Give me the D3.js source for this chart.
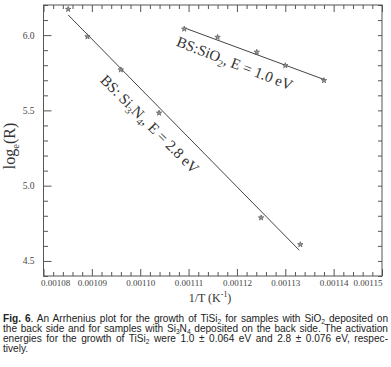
<!DOCTYPE html>
<html>
<head>
<meta charset="utf-8">
<script src="https://cdn.jsdelivr.net/npm/d3@7"></script>
<style>
  body { margin: 0; background: #fff; }
  .svgText { font-family: 'Liberation Serif', 'Times New Roman', serif; fill: #444; }
  .caption { font-family: 'Liberation Sans', Arial, sans-serif; font-size: 10.1px; fill: #222; }
</style>
</head>
<body>
<div id="chart"></div>
<script>

// axis ticks
const xTicks = [0.00108, 0.00109, 0.00110, 0.00111, 0.00112, 0.00113, 0.00114, 0.00115];
const yTicks = [4.5, 5.0, 5.5, 6.0];

// measured points, 1/T (K^-1) and log_e(R)
const siO2InvT = [0.0011091, 0.0011160, 0.0011241, 0.0011300, 0.0011380];
const siO2LogR = [6.041, 5.986, 5.887, 5.798, 5.699];
const si3N4InvT = [0.0010851, 0.0010891, 0.0010960, 0.0011039, 0.0011250, 0.0011331];
const si3N4LogR = [6.172, 5.990, 5.770, 5.483, 4.787, 4.609];

// fitted lines (end points)
const siO2FitInvT = [0.0011093, 0.0011382];
const siO2FitLogR = [6.046, 5.703];
const si3N4FitInvT = [0.0010851, 0.0011329];
const si3N4FitLogR = [6.134, 4.571];

// caption, segments: [text, style] with b = bold, s = subscript
const captionLines = [
  [['Fig. 6', 'b'], ['. An Arrhenius plot for the growth of TiSi'], ['2', 's'], [' for samples with SiO'], ['2', 's'], [' deposited on']],
  [['the back side and for samples with Si'], ['3', 's'], ['N'], ['4', 's'], [' deposited on the back side. The activation']],
  [['energies for the growth of TiSi'], ['2', 's'], [' were 1.0 \u00b1 0.064 eV and 2.8 \u00b1 0.076 eV, respec-']],
  [['tively.']]
];

Plot = {

  svgSize: {width: 391, height: 367},
  frame: {left: 43.5, right: 382, top: 5, bottom: 276},

  createSVG: function(){
    this.svg = d3.select('#chart').append('svg')
      .attr('width', this.svgSize.width)
      .attr('height', this.svgSize.height)
  },

  createScales: function(){
    this.xScale = d3.scaleLinear().domain([0.00108, 0.00115]).range([this.frame.left, this.frame.right])
    this.yScale = d3.scaleLinear().domain([4.4, 6.2]).range([this.frame.bottom, this.frame.top])
    this.xMinor = d3.range(0.00108, 0.001151, 0.000002).filter((d)=> Math.abs((d * 1e5) % 1) > 0.01 && Math.abs((d * 1e5) % 1) < 0.99)
    this.yMinor = d3.range(4.4, 6.21, 0.1).filter((d)=> Math.abs((d * 2) % 1) > 0.01 && Math.abs((d * 2) % 1) < 0.99)
  },

  drawTicks: function(axis){
    return (g)=> {
      g.call(axis)
      g.select('.domain').remove()
      g.selectAll('.tick line').attr('stroke', '#555')
    }
  },

  createAxes: function(){
    const f = this.frame;
    const noLabel = ()=> '';

    // bottom
    this.svg.append('g').attr('transform', `translate(0, ${f.bottom})`)
      .call(this.drawTicks(d3.axisBottom(this.xScale).tickValues(xTicks).tickSize(-7).tickPadding(4).tickFormat(d3.format('.5f'))))
      .call((g)=> g.selectAll('text').attr('class', 'svgText').style('font-size', '9px'))
      .call((g)=> {
        g.selectAll('text').filter((d)=> d === xTicks[0]).attr('text-anchor', 'start').attr('x', -3)
        g.selectAll('text').filter((d)=> d === xTicks[xTicks.length - 1]).attr('text-anchor', 'end').attr('x', 0)
      })
    this.svg.append('g').attr('transform', `translate(0, ${f.bottom})`)
      .call(this.drawTicks(d3.axisBottom(this.xScale).tickValues(this.xMinor).tickSize(-4).tickFormat(noLabel)))

    // top
    this.svg.append('g').attr('transform', `translate(0, ${f.top})`)
      .call(this.drawTicks(d3.axisTop(this.xScale).tickValues(xTicks).tickSize(-7).tickFormat(noLabel)))
    this.svg.append('g').attr('transform', `translate(0, ${f.top})`)
      .call(this.drawTicks(d3.axisTop(this.xScale).tickValues(this.xMinor).tickSize(-4).tickFormat(noLabel)))

    // left
    this.svg.append('g').attr('transform', `translate(${f.left}, 0)`)
      .call(this.drawTicks(d3.axisLeft(this.yScale).tickValues(yTicks).tickSize(-8).tickPadding(9).tickFormat(d3.format('.1f'))))
      .call((g)=> g.selectAll('text').attr('class', 'svgText').style('font-size', '9.5px'))
    this.svg.append('g').attr('transform', `translate(${f.left}, 0)`)
      .call(this.drawTicks(d3.axisLeft(this.yScale).tickValues(this.yMinor).tickSize(-4.5).tickFormat(noLabel)))

    // right
    this.svg.append('g').attr('transform', `translate(${f.right}, 0)`)
      .call(this.drawTicks(d3.axisRight(this.yScale).tickValues(yTicks.concat(this.yMinor)).tickSize(-4).tickFormat(noLabel)))

    this.svg.append('rect')
      .attr('x', f.left).attr('y', f.top)
      .attr('width', f.right - f.left).attr('height', f.bottom - f.top)
      .attr('fill', 'none').attr('stroke', '#555').attr('stroke-width', 1)
  },

  drawSeries: function(invT, logR, fitInvT, fitLogR){
    const line = d3.line().x((d)=> this.xScale(d[0])).y((d)=> this.yScale(d[1]))
    this.svg.append('path')
      .datum(d3.zip(fitInvT, fitLogR))
      .attr('d', line)
      .attr('fill', 'none')
      .attr('stroke', '#444')
      .attr('stroke-width', 1)

    this.svg.append('g').selectAll('path')
      .data(d3.zip(invT, logR))
      .enter()
      .append('path')
      .attr('d', d3.symbol().type(d3.symbolStar).size(9))
      .attr('transform', (d)=> `translate(${this.xScale(d[0])}, ${this.yScale(d[1])})`)
      .attr('fill', '#999')
      .attr('stroke', '#555')
      .attr('stroke-width', 0.7)
  },

  // text with sub / superscript pieces
  richText: function(el, parts, size, subShift){
    let shift = 0;
    parts.forEach((p)=> {
      const t = el.append('tspan').text(p[0])
      let want = 0;
      if (p[1] === 's') want = size * (subShift || 0.25)
      if (p[1] === 'p') want = -size * 0.38
      if (want !== shift) t.attr('dy', want - shift)
      shift = want
      if (p[1] === 's' || p[1] === 'p') t.style('font-size', (size * 0.66) + 'px')
      if (p[1] === 'b') t.style('font-weight', 'bold')
    })
    return el
  },

  createLabels: function(){
    const serif = "'Liberation Serif', 'Times New Roman', serif";

    this.richText(this.svg.append('text')
      .attr('transform', 'translate(14.5, 146) rotate(-90)')
      .attr('text-anchor', 'middle')
      .style('font-family', serif).style('font-size', '16px').attr('fill', '#333'),
      [['log'], ['e', 's'], ['(R)']], 16)

    this.richText(this.svg.append('text')
      .attr('x', 210).attr('y', 302)
      .attr('text-anchor', 'middle')
      .style('font-family', serif).style('font-size', '12px').attr('fill', '#333'),
      [['1/T (K'], ['-1', 'p'], [')']], 12)

    this.richText(this.svg.append('text')
      .attr('transform', 'translate(175.5, 45.5) rotate(21.4)')
      .style('font-family', serif).style('font-size', '15px').attr('fill', '#333'),
      [['BS:SiO'], ['2', 's'], [', E = 1.0 eV']], 15)

    this.richText(this.svg.append('text')
      .attr('transform', 'translate(99.5, 81) rotate(45)')
      .style('font-family', serif).style('font-size', '15px').attr('fill', '#333'),
      [['BS: Si'], ['3', 's'], ['N'], ['4', 's'], [', E = 2.8 eV']], 15)
  },

  createCaption: function(){
    const left = 3, right = 388, top = 322, step = 10;
    captionLines.forEach((parts, i)=> {
      const t = this.richText(this.svg.append('text')
        .attr('class', 'caption')
        .attr('x', left)
        .attr('y', top + i * step), parts, 10.1, 0.16)
      if (i < captionLines.length - 1) {
        const full = parts.map((p)=> p[0]).join('')
        const spaces = full.split(' ').length - 1
        const w = t.node().getComputedTextLength()
        t.style('word-spacing', ((right - left - w) / spaces) + 'px')
      }
    })
  },

  load: function(){
    this.createSVG();
    this.createScales();
    this.createAxes();
    this.drawSeries(si3N4InvT, si3N4LogR, si3N4FitInvT, si3N4FitLogR);
    this.drawSeries(siO2InvT, siO2LogR, siO2FitInvT, siO2FitLogR);
    this.createLabels();
    this.createCaption();
  },

}

Plot.load()

</script>
</body>
</html>
